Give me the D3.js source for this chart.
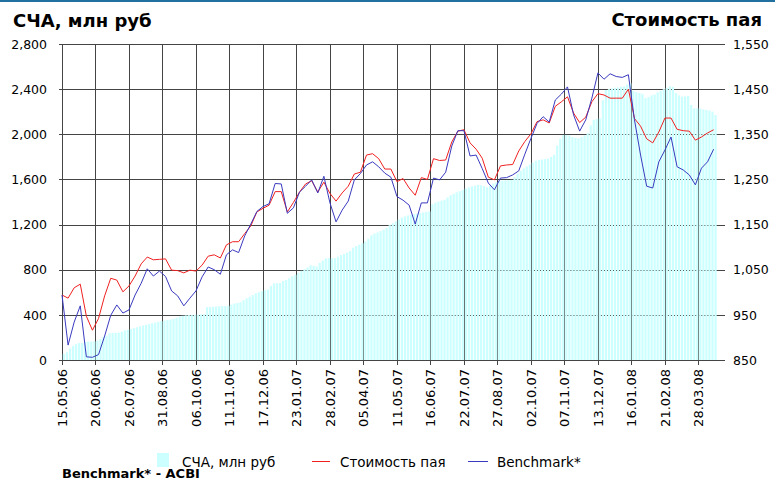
<!DOCTYPE html>
<html>
<head>
<meta charset="utf-8">
<script src="https://cdn.jsdelivr.net/npm/d3@7"></script>
<style>
    body { margin: 0; background: #fff; }
    svg { display: block; font-family: "DejaVu Sans", Verdana, sans-serif; }
</style>
</head>
<body>
<svg id="chart" width="775" height="480"></svg>
<script>
// подписи дат (каждые 11 точек)
var tickLabels = ["15.05.06", "20.06.06", "26.07.06", "31.08.06", "06.10.06", "11.11.06",
    "17.12.06", "23.01.07", "28.02.07", "05.04.07", "11.05.07", "16.06.07", "22.07.07",
    "27.08.07", "02.10.07", "07.11.07", "13.12.07", "16.01.08", "21.02.08", "28.03.08"];

// СЧА, млн руб (левая ось), одна точка на столбик
var navValues = [53, 70, 100, 125, 140, 150, 150, 160, 162, 162,
    165, 170, 185, 205, 215, 238, 240, 240, 242, 250,
    262, 268, 275, 282, 290, 297, 305, 312, 319, 325,
    332, 338, 344, 350, 354, 358, 365, 375, 385, 392,
    396, 398, 398, 400, 402, 404, 406, 468, 470, 472,
    474, 476, 478, 478, 480, 490, 500, 505, 512, 530,
    546, 560, 575, 590, 600, 610, 618, 625, 655, 679,
    680, 682, 700, 709, 725, 742, 755, 772, 790, 805,
    820, 840, 835, 828, 860, 880, 900, 902, 900, 902,
    915, 930, 940, 952, 965, 995, 1010, 1022, 1034, 1050,
    1075, 1105, 1120, 1130, 1142, 1155, 1170, 1195, 1211, 1228,
    1245, 1262, 1272, 1280, 1287, 1293, 1298, 1302, 1308, 1312,
    1316, 1380, 1395, 1404, 1412, 1420, 1440, 1460, 1472, 1486,
    1496, 1508, 1520, 1530, 1538, 1545, 1551, 1548, 1540, 1530,
    1545, 1563, 1575, 1585, 1590, 1592, 1594, 1596, 1620, 1652,
    1675, 1698, 1715, 1732, 1748, 1765, 1773, 1777, 1780, 1784,
    1800, 1817, 1900, 1960, 1994, 1994, 1990, 1975, 1968, 1964,
    1975, 1990, 2010, 2080, 2127, 2135, 2141, 2300, 2392, 2400,
    2407, 2412, 2415, 2420, 2425, 2440, 2452, 2385, 2372, 2365,
    2358, 2320, 2330, 2345, 2352, 2372, 2385, 2400, 2410, 2425,
    2420, 2365, 2345, 2333, 2336, 2339, 2260, 2230, 2230, 2228,
    2220, 2215, 2210, 2200, 2171];

// Стоимость пая (правая ось), точка на каждый второй столбик
var unitPrice = [994, 987, 1010, 1018, 947, 916, 942, 992, 1031, 1027,
    1001, 1014, 1036, 1063, 1078, 1072, 1073, 1074, 1049, 1048,
    1043, 1049, 1047, 1060, 1080, 1083, 1076, 1105, 1112, 1112,
    1130, 1147, 1178, 1186, 1193, 1223, 1223, 1178, 1199, 1222,
    1240, 1247, 1222, 1244, 1219, 1202, 1220, 1235, 1262, 1266,
    1304, 1307, 1296, 1273, 1273, 1245, 1252, 1231, 1215, 1254,
    1250, 1296, 1292, 1293, 1333, 1357, 1360, 1331, 1317, 1297,
    1255, 1249, 1280, 1282, 1283, 1313, 1334, 1351, 1378, 1382,
    1375, 1412, 1422, 1433, 1397, 1376, 1388, 1422, 1440, 1437,
    1430, 1430, 1430, 1450, 1385, 1368, 1340, 1331, 1355, 1386,
    1386, 1361, 1358, 1357, 1337, 1344, 1353, 1360];

// Benchmark (правая ось)
var benchmark = [994, 883, 934, 970, 857, 856, 862, 903, 949, 972,
    954, 961, 994, 1020, 1052, 1036, 1047, 1035, 1003, 992,
    970, 987, 1003, 1034, 1056, 1050, 1040, 1083, 1094, 1088,
    1125, 1151, 1179, 1190, 1196, 1241, 1240, 1175, 1187, 1222,
    1235, 1249, 1220, 1257, 1198, 1156, 1182, 1202, 1249, 1263,
    1282, 1289, 1278, 1264, 1255, 1212, 1204, 1193, 1151, 1198,
    1198, 1253, 1249, 1266, 1324, 1358, 1358, 1302, 1304, 1274,
    1242, 1227, 1253, 1254, 1260, 1269, 1306, 1341, 1374, 1389,
    1377, 1426, 1439, 1455, 1393, 1357, 1382, 1430, 1486, 1472,
    1484, 1478, 1476, 1482, 1382, 1304, 1235, 1231, 1289, 1315,
    1344, 1278, 1271, 1260, 1238, 1275, 1289, 1317];

var leftTicks = [0, 400, 800, 1200, 1600, 2000, 2400, 2800];
var rightTicks = [850, 950, 1050, 1150, 1250, 1350, 1450, 1550];

function drawChart() {
    var svg = d3.select("#chart");
    svg.selectAll("*").remove();

    var margin = {top: 44, right: 58, bottom: 120, left: 62},
        width = +svg.attr("width") - margin.left - margin.right,
        height = +svg.attr("height") - margin.top - margin.bottom,
        g = svg.append("g").attr("transform", "translate(" + margin.left + "," + margin.top + ")");

    var step = 11;   // точек между подписями дат
    var x = d3.scaleLinear().domain([0, 215.1]).range([0, width]),
        yL = d3.scaleLinear().domain([0, 2800]).range([height, 0]),
        yR = d3.scaleLinear().domain([850, 1550]).range([height, 0]);

    var fmt = d3.format(",");
    var tickIdx = tickLabels.map(function (d, i) { return i * step; });

    // синяя полоса сверху
    svg.append("rect")
        .attr("x", 0).attr("y", 0)
        .attr("width", 775).attr("height", 2)
        .attr("fill", "#22709f");

    // сетка
    g.append("g")
        .selectAll("line")
        .data(leftTicks)
        .enter().append("line")
        .attr("x1", -3).attr("x2", width + 8)
        .attr("y1", function (d) { return Math.round(yL(d)) + 0.5; })
        .attr("y2", function (d) { return Math.round(yL(d)) + 0.5; })
        .attr("stroke", "#444")
        .attr("shape-rendering", "crispEdges");

    g.append("g")
        .selectAll("line")
        .data(tickIdx)
        .enter().append("line")
        .attr("x1", function (d) { return Math.round(x(d)) + 0.5; })
        .attr("x2", function (d) { return Math.round(x(d)) + 0.5; })
        .attr("y1", 0).attr("y2", height + 5)
        .attr("stroke", "#444")
        .attr("shape-rendering", "crispEdges");

    // столбики СЧА
    var bw = x(1) - x(0);
    g.append("g")
        .selectAll("rect")
        .data(navValues)
        .enter().append("rect")
        .attr("fill", "#ccffff")
        .attr("x", function (d, i) { return x(i) + 0.8; })
        .attr("y", function (d) { return yL(d); })
        .attr("width", bw * 0.72)
        .attr("height", function (d) { return yL(0) - yL(d); });

    // линии
    var line = d3.line()
        .x(function (d, i) { return x(i * 2); })
        .y(function (d) { return yR(d); });

    g.append("path")
        .datum(unitPrice)
        .attr("fill", "none")
        .attr("stroke", "#f02020")
        .attr("stroke-width", 1)
        .attr("d", line);

    g.append("path")
        .datum(benchmark)
        .attr("fill", "none")
        .attr("stroke", "#3a3ac0")
        .attr("stroke-width", 1)
        .attr("d", line);

    // подписи осей
    g.append("g")
        .selectAll("text")
        .data(leftTicks)
        .enter().append("text")
        .attr("x", -15)
        .attr("y", function (d) { return yL(d); })
        .attr("dy", "0.38em")
        .attr("text-anchor", "end")
        .style("font-size", "12.5px")
        .attr("fill", "#000")
        .text(function (d) { return fmt(d); });

    g.append("g")
        .selectAll("text")
        .data(rightTicks)
        .enter().append("text")
        .attr("x", width + 16)
        .attr("y", function (d) { return yR(d); })
        .attr("dy", "0.38em")
        .style("font-size", "12.5px")
        .attr("fill", "#000")
        .text(function (d) { return fmt(d); });

    g.append("g")
        .selectAll("text")
        .data(tickLabels)
        .enter().append("text")
        .attr("transform", function (d, i) {
            return "translate(" + (x(i * step) + 5) + "," + (height + 9) + ") rotate(-90)";
        })
        .attr("text-anchor", "end")
        .style("font-size", "13px")
        .attr("fill", "#000")
        .text(function (d) { return d; });

    // заголовки
    svg.append("text")
        .attr("x", 13).attr("y", 27)
        .style("font-size", "18px")
        .style("font-weight", "bold")
        .text("СЧА, млн руб");

    svg.append("text")
        .attr("x", 762).attr("y", 26)
        .attr("text-anchor", "end")
        .style("font-size", "18px")
        .style("font-weight", "bold")
        .text("Стоимость пая");

    // легенда
    var lg = svg.append("g").style("font-size", "13.5px");
    lg.append("rect")
        .attr("x", 157).attr("y", 453)
        .attr("width", 12).attr("height", 14)
        .attr("fill", "#ccffff");
    lg.append("text").attr("x", 182).attr("y", 467).text("СЧА, млн руб");

    lg.append("line")
        .attr("x1", 312).attr("x2", 330).attr("y1", 461.5).attr("y2", 461.5)
        .attr("stroke", "#f02020");
    lg.append("text").attr("x", 340).attr("y", 467).text("Стоимость пая");

    lg.append("line")
        .attr("x1", 468).attr("x2", 488).attr("y1", 461.5).attr("y2", 461.5)
        .attr("stroke", "#3a3ac0");
    lg.append("text").attr("x", 497).attr("y", 467).text("Benchmark*");

    svg.append("text")
        .attr("x", 62).attr("y", 478)
        .style("font-size", "13px")
        .style("font-weight", "bold")
        .text("Benchmark* - ACBI");
}

drawChart();
</script>
</body>
</html>
